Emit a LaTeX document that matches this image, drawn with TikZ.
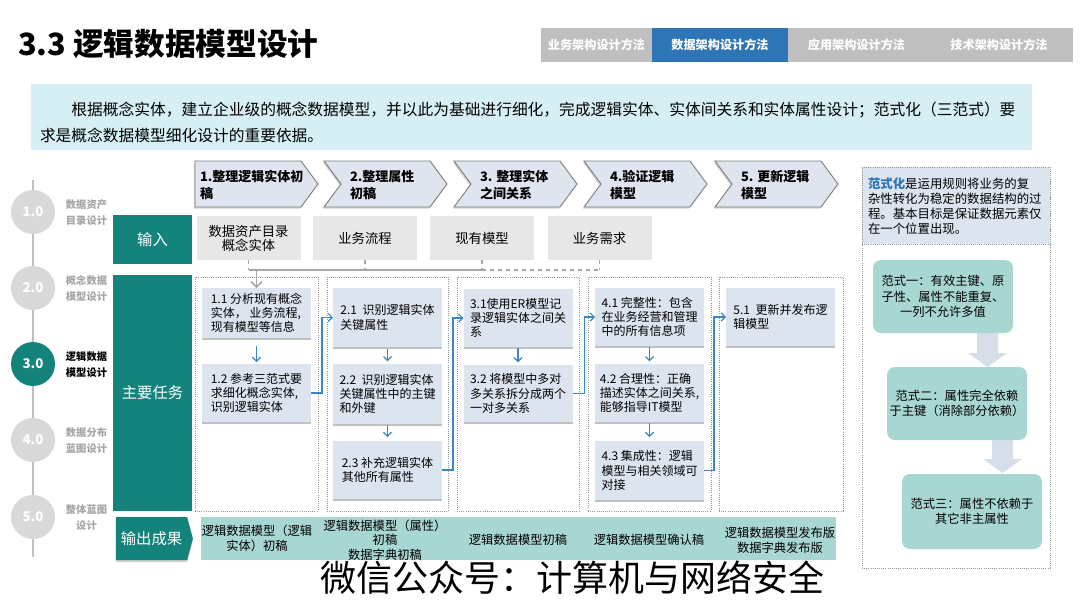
\documentclass[tikz,border=0pt]{standalone}
\usepackage{fontspec}
\setmainfont{Noto Sans CJK SC}
\usetikzlibrary{shadows,shapes.symbols,arrows.meta,calc}

\definecolor{teal1}{RGB}{20,131,123}
\definecolor{tealL}{RGB}{168,214,210}
\definecolor{taskF}{RGB}{220,228,240}
\definecolor{chevF}{RGB}{222,229,239}
\definecolor{chevD}{RGB}{127,127,127}
\definecolor{inF}{RGB}{231,231,231}
\definecolor{descF}{RGB}{213,239,244}
\definecolor{tabG}{RGB}{191,191,191}
\definecolor{tabB}{RGB}{46,117,182}
\definecolor{circG}{RGB}{217,217,217}
\definecolor{lineG}{RGB}{191,191,191}
\definecolor{lblG}{RGB}{166,166,166}
\definecolor{connG}{RGB}{166,166,166}
\definecolor{colD}{RGB}{150,150,150}
\definecolor{arrB}{RGB}{58,134,200}
\definecolor{bigA}{RGB}{214,222,234}
\definecolor{hdrF}{RGB}{220,228,240}

\begin{document}
\begin{tikzpicture}[x=0.75pt,y=-0.75pt,
  every node/.style={inner sep=0pt,outer sep=0pt},
  tab/.style={minimum height=25.5pt,font=\fontsize{9.1}{10}\selectfont\bfseries,text=white},
  circ/.style={circle,fill=circG,minimum size=33pt,text=white,font=\fontsize{10}{12}\selectfont\bfseries},
  lbl/.style={align=center,text=lblG,font=\fontsize{7.7}{12}\selectfont\bfseries},
  tealbox/.style={fill=teal1,text=white,font=\fontsize{11.5}{13}\selectfont},
  chevsty/.style={draw=chevD,fill=chevF,line width=0.7pt,line join=miter,
    drop shadow={shadow xshift=-0.8pt,shadow yshift=-1.2pt,opacity=0.35}},
  chevA/.pic={\path[chevsty] (0,0) -- (106,0) -- (123,23) -- (106,46) -- (0,46) -- cycle;},
  chevB/.pic={\path[chevsty] (0,0) -- (106,0) -- (123,23) -- (106,46) -- (0,46) -- (17,23) -- cycle;},
  chevtxt/.style={anchor=west,align=left,font=\fontsize{9.75}{13}\selectfont\bfseries},
  inbox/.style={fill=inF,minimum width=78pt,minimum height=33pt,align=center,font=\fontsize{10}{10.5}\selectfont},
  conn/.style={draw=connG,line width=1.1pt},
  colbox/.style={draw=colD,densely dotted,line width=0.6pt,minimum height=175.5pt},
  task/.style={fill=taskF,minimum width=81.75pt,align=left,font=\fontsize{9}{10.7}\selectfont,
    drop shadow={shadow xshift=0pt,shadow yshift=-1.5pt,fill=black!35,opacity=0.7}},
  arr/.style={draw=arrB,line width=0.9pt,-{Straight Barb[length=3pt,width=6pt]}},
  outtxt/.style={align=center,font=\fontsize{9.2}{11}\selectfont},
  fan/.style={fill=tealL,rounded corners=6pt,minimum width=105pt,minimum height=54.75pt,align=center,font=\fontsize{9.2}{11.5}\selectfont}
]
\useasboundingbox (0,0) rectangle (1080,608);
\fill[white] (0,0) rectangle (1080,608);

% title and tabs
\node[anchor=west,font=\fontsize{23}{26}\selectfont\bfseries] (title) at (18,44) {3.3 逻辑数据模型设计};
\node[tab,fill=tabG,minimum width=83.25pt] (tab1) at (596.5,45) {业务架构设计方法};
\node[tab,fill=tabB,minimum width=102pt] (tab2) at (720,45) {数据架构设计方法};
\node[tab,fill=tabG,minimum width=102.75pt] (tab3) at (856.5,45) {应用架构设计方法};
\node[tab,fill=tabG,minimum width=111pt] (tab4) at (999,45) {技术架构设计方法};

% description
\node[fill=descF,minimum width=750.75pt,minimum height=49.5pt] (desc) at (531.5,117) {};
\node[anchor=west,align=left,font=\fontsize{11.8}{19.5}\selectfont] (desctext) at (40,122)
  {\hspace*{2em}根据概念实体，建立企业级的概念数据模型，并以此为基础进行细化，完成逻辑实体、实体间关系和实体属性设计；范式化（三范式）要\\求是概念数据模型细化设计的重要依据。};

% timeline
\draw[lineG,line width=1.5pt] (33,180) -- (33,557);
\node[circ] (c1) at (33,212) {1.0};
\node[circ] (c2) at (33,288) {2.0};
\node[circ,fill=teal1] (c3) at (33,364) {3.0};
\node[circ] (c4) at (33,440) {4.0};
\node[circ] (c5) at (33,517) {5.0};
\node[lbl] (l1) at (86.5,213) {数据资产\\目录设计};
\node[lbl] (l2) at (86.5,289) {概念数据\\模型设计};
\node[lbl,text=black] (l3) at (86.5,365) {逻辑数据\\模型设计};
\node[lbl] (l4) at (86.5,441) {数据分布\\蓝图设计};
\node[lbl] (l5) at (86.5,518) {整体蓝图\\设计};

% teal row headers
\node[tealbox,minimum width=59.25pt,minimum height=36.75pt] (inp) at (152.5,239.5) {输入};
\node[tealbox,minimum width=59.25pt,minimum height=177pt] (mtask) at (152.5,393) {主要任务};
\node[tealbox,signal,signal to=east,signal pointer angle=150,minimum width=57.75pt,minimum height=32.25pt,
  drop shadow={shadow xshift=0pt,shadow yshift=-1.5pt,opacity=0.35}] (outp) at (151.5,538.5) {输出成果};

% chevrons
\pic at (195,161) {chevA};
\pic at (324,161) {chevB};
\pic at (454,161) {chevB};
\pic at (584,161) {chevB};
\pic at (715,161) {chevB};
\node[chevtxt] (p1t) at (200,185) {1.整理逻辑实体初\\稿};
\node[chevtxt] (p2t) at (350,185) {2.整理属性\\初稿};
\node[chevtxt] (p3t) at (480,185) {3. 整理实体\\之间关系};
\node[chevtxt] (p4t) at (610,185) {4.验证逻辑\\模型};
\node[chevtxt] (p5t) at (741,185) {5. 更新逻辑\\模型};

% inputs
\node[inbox] (in1) at (248.5,238) {数据资产目录\\概念实体};
\node[inbox] (in2) at (365,238) {业务流程};
\node[inbox] (in3) at (482,238) {现有模型};
\node[inbox] (in4) at (599.5,238) {业务需求};

% columns
\node[colbox,minimum width=92.25pt] (col1) at (256.5,394) {};
\node[colbox,minimum width=90.75pt] (col2) at (387.5,394) {};
\node[colbox,minimum width=91.5pt] (col3) at (518,394) {};
\node[colbox,minimum width=92.25pt] (col4) at (649.5,394) {};
\node[colbox,minimum width=93pt] (col5) at (781,394) {};

% tasks
\node[task,minimum height=37.5pt] (t11) at (256.5,313) {1.1 分析现有概念\\实体， 业务流程,\\现有模型等信息};
\node[task,minimum height=43.5pt] (t12) at (256.5,393) {1.2 参考三范式要\\求细化概念实体,\\识别逻辑实体};
\node[task,minimum height=44.25pt] (t21) at (387.5,317.5) {2.1\ \ 识别逻辑实体\\关键属性};
\node[task,minimum height=45pt] (t22) at (387.5,394) {2.2\ \ 识别逻辑实体\\关键属性中的主键\\和外键};
\node[task,minimum height=43.5pt] (t23) at (387.5,470) {2.3 补充逻辑实体\\其他所有属性};
\node[task,minimum height=43.5pt] (t31) at (518,318) {3.1使用ER模型记\\录逻辑实体之间关\\系};
\node[task,minimum height=42.75pt] (t32) at (518,393.5) {3.2 将模型中多对\\多关系拆分成两个\\一对多关系};
\node[task,minimum height=43.5pt] (t41) at (649.5,317) {4.1 完整性：包含\\在业务经营和管理\\中的所有信息项};
\node[task,minimum height=43.5pt] (t42) at (649.5,393) {4.2 合理性：正确\\描述实体之间关系,\\能够指导IT模型};
\node[task,minimum height=44.25pt] (t43) at (649.5,470.5) {4.3 集成性：逻辑\\模型与相关领域可\\对接};
\node[task,minimum height=43.5pt] (t51) at (780.5,317) {5.1\ \ 更新并发布逻\\辑模型};

% input connectors
\draw[conn,dashed,line width=0.8pt] (in1.south) -- ++(0,10) coordinate (h1);
\draw[conn,dashed,line width=0.8pt] (in2.south) -- ++(0,10) coordinate (h2);
\draw[conn,dashed,line width=0.8pt] (in3.south) -- ++(0,10) coordinate (h3);
\draw[conn,dashed,line width=0.8pt] (in4.south) -- ++(0,10) coordinate (h4);
\draw[conn] (h1) -- (h3);
\draw[conn,dashed] (h3) -- (h4);
\draw[conn,-{Straight Barb[length=4pt,width=8pt]}] (t11.north |- h1) -- (t11.north);

% task arrows
\draw[arr,shorten <=6pt,shorten >=1.5pt] (t11.south) -- (t12.north);
\draw[arr,shorten <=1.5pt,shorten >=2pt] (t21.south) -- (t22.north);
\draw[arr,shorten <=1pt,shorten >=3pt] (t22.south) -- (t23.north);
\draw[arr,shorten <=1pt,shorten >=2pt] (t31.south) -- (t32.north);
\draw[arr,shorten <=1pt,shorten >=2pt] (t41.south) -- (t42.north);
\draw[arr,shorten <=1pt,shorten >=3pt] (t42.south) -- (t43.north);
\draw[arr] (t12.east) -- ++(11,0) |- (t21.west);
\draw[arr] (t23.east) -- ++(11,0) |- (t31.west);
\draw[arr] (t32.east) -- ++(12,0) |- (t41.west);
\draw[arr] (t43.east) -- ++(10,0) |- (t51.west);

% outputs
\node[fill=tealL,minimum width=476.25pt,minimum height=32.25pt] (band) at (518.5,538.5) {};
\node[outtxt] (o1) at (257,538) {逻辑数据模型（逻辑\\实体）初稿};
\node[outtxt] (o2) at (385,540) {逻辑数据模型（属性）\\初稿\\数据字典初稿};
\node[outtxt] (o3) at (518,540) {逻辑数据模型初稿};
\node[outtxt] (o4) at (649,540) {逻辑数据模型确认稿};
\node[outtxt] (o5) at (780,540) {逻辑数据模型发布版\\数据字典发布版};

% right panel
\node[draw=colD,densely dotted,line width=0.6pt,minimum width=141pt,minimum height=300.75pt] (rp) at (956,367.5) {};
\node[draw=colD,densely dotted,line width=0.6pt,fill=hdrF,minimum width=141pt,minimum height=57.75pt] (rph) at (956,205.5) {};
\node[anchor=north west,align=left,font=\fontsize{9.3}{11.25}\selectfont] (rpt) at (868,178)
  {{\color{tabB}\bfseries 范式化}是运用规则将业务的复\\杂性转化为稳定的数据结构的过\\程。基本目标是保证数据元素仅\\在一个位置出现。};
\fill[bigA] (977,333) -- (998,333) -- (998,353) -- (1007,353) -- (987.5,367) -- (968,353) -- (977,353) -- cycle;
\fill[bigA] (992,440) -- (1013,440) -- (1013,459) -- (1022,459) -- (1002.5,473) -- (983,459) -- (992,459) -- cycle;
\node[fan] (f1) at (943,296.5) {范式一：有效主键、原\\子性、属性不能重复、\\一列不允许多值};
\node[fan] (f2) at (957,403.5) {范式二：属性完全依赖\\于主键（消除部分依赖）};
\node[fan,minimum height=56.25pt] (f3) at (972,511.5) {范式三：属性不依赖于\\其它非主属性};

% watermark
\node[font=\fontsize{27}{30}\selectfont] (wm) at (572,578) {微信公众号：计算机与网络安全};
\end{tikzpicture}
\end{document}
